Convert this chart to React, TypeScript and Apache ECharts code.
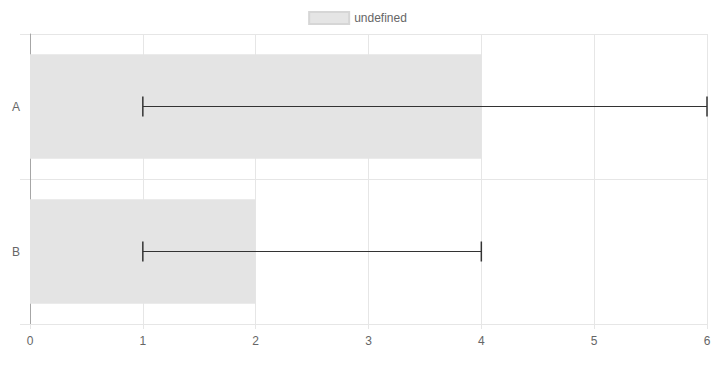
import React, { useEffect, useRef } from "react";
import * as echarts from "echarts";

const categories = ["A", "B"];
const values = [4, 2];
const errLow = [1, 1];
const errHigh = [6, 4];
const xTicks = [0, 1, 2, 3, 4, 5, 6];
const seriesName = "undefined";

export default function App() {
  const ref = useRef<HTMLDivElement>(null);
  useEffect(() => {
    if (!ref.current) return;
    const chart = echarts.init(ref.current, null, { renderer: "svg" });
    const errData = categories.map((_, i) => [errLow[i], errHigh[i], i]);
    chart.setOption({
      animation: false,
      textStyle: { fontFamily: "'Liberation Sans', Arial, sans-serif" },
      legend: {
        top: 6,
        left: "center",
        data: [seriesName],
        icon: "rect",
        itemWidth: 40,
        itemHeight: 12,
        itemGap: 10,
        textStyle: { color: "#666", fontSize: 12 },
        itemStyle: { color: "#e5e5e5", borderColor: "#d6d6d6", borderWidth: 2 },
      },
      grid: { left: 30, right: 8, top: 34, bottom: 42, containLabel: false },
      xAxis: {
        type: "value",
        min: xTicks[0],
        max: xTicks[xTicks.length - 1],
        interval: 1,
        axisLine: { show: true, lineStyle: { color: "#e6e6e6" } },
        axisTick: { show: true, length: 5, lineStyle: { color: "#e6e6e6" } },
        splitLine: { show: true, lineStyle: { color: "#e6e6e6" } },
        axisLabel: { color: "#666", fontSize: 12, margin: 11 },
      },
      yAxis: {
        type: "category",
        data: categories,
        inverse: true,
        axisLine: { show: true, lineStyle: { color: "#a6a6a6" } },
        axisTick: { show: true, length: 10, lineStyle: { color: "#e6e6e6" } },
        splitLine: { show: true, lineStyle: { color: "#e6e6e6" } },
        axisLabel: { color: "#666", fontSize: 12, margin: 10 },
      },
      series: [
        {
          name: seriesName,
          type: "bar",
          data: values,
          barCategoryGap: "28%",
          itemStyle: { color: "#e4e4e4" },
          emphasis: { disabled: true },
        },
        {
          name: "errors",
          type: "custom",
          data: errData,
          encode: { x: [0, 1], y: 2 },
          z: 5,
          clip: false,
          renderItem: (params: any, api: any) => {
            const lo = api.coord([api.value(0), api.value(2)]);
            const hi = api.coord([api.value(1), api.value(2)]);
            const h = 10;
            const style = { stroke: "#333", lineWidth: 1 };
            const capStyle = { stroke: "#333", lineWidth: 1.5 };
            return {
              type: "group",
              children: [
                { type: "line", shape: { x1: lo[0], y1: lo[1], x2: hi[0], y2: hi[1] }, style },
                { type: "line", shape: { x1: lo[0], y1: lo[1] - h, x2: lo[0], y2: lo[1] + h }, style: capStyle },
                { type: "line", shape: { x1: hi[0], y1: hi[1] - h, x2: hi[0], y2: hi[1] + h }, style: capStyle },
              ],
            };
          },
        },
      ],
    });
    return () => chart.dispose();
  }, []);
  return <div ref={ref} style={{ width: 715, height: 366, position: "absolute", left: 0, top: 0 }} />;
}
